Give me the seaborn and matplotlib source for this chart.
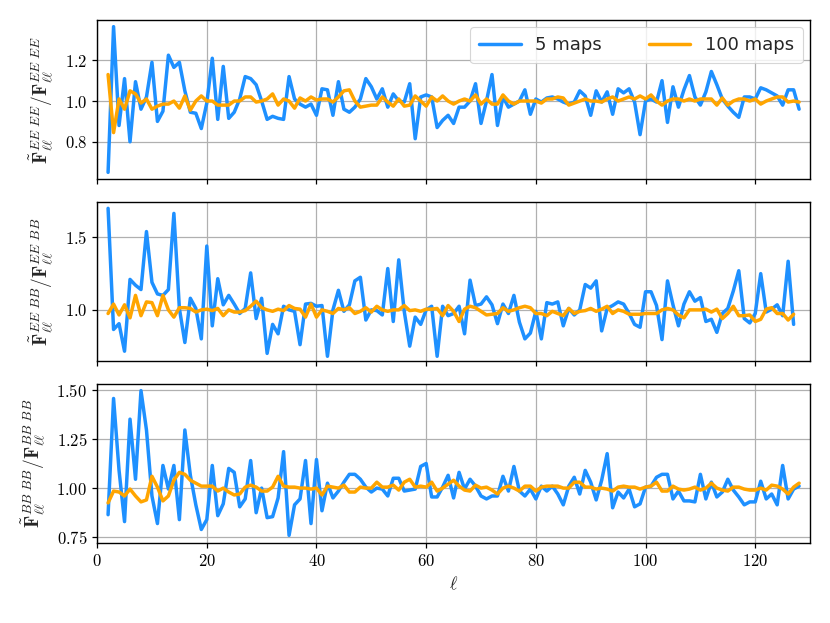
import numpy as np
import seaborn as sns
import matplotlib.pyplot as plt
import matplotlib.ticker as ticker

ell = np.arange(2, 129)

# EE x EE ratio
ee_5 = [0.65, 1.365, 0.88, 1.11, 0.80, 1.095, 0.96, 1.02, 1.19, 0.90,
        0.95, 1.225, 1.165, 1.19, 1.05, 0.945, 0.94, 0.865, 0.99, 1.21,
        0.91, 1.17, 0.915, 0.945, 1.01, 1.12, 1.11, 1.08, 1.0, 0.91,
        0.925, 0.915, 0.91, 1.12, 1.01, 0.985, 0.97, 0.985, 0.93, 1.06,
        1.055, 0.93, 1.095, 0.96, 0.945, 0.97, 1.01, 1.11, 1.07, 1.01,
        1.06, 0.97, 1.035, 1.0, 0.995, 1.085, 0.815, 1.02, 1.03, 1.02,
        0.87, 0.905, 0.93, 0.89, 0.97, 0.97, 1.0, 1.085, 0.89, 1.0,
        1.13, 0.88, 1.02, 0.97, 0.985, 1.0, 1.055, 0.935, 1.01, 0.995,
        1.015, 1.02, 1.01, 0.995, 0.985, 0.995, 1.05, 1.025, 0.93, 1.05,
        0.995, 1.045, 0.935, 1.06, 1.04, 1.06, 0.995, 0.835, 1.0, 1.01,
        0.995, 1.10, 0.895, 1.07, 0.97, 1.055, 1.125, 1.02, 0.98, 1.045,
        1.145, 1.08, 1.01, 0.975, 0.945, 0.92, 1.02, 1.02, 1.01, 1.065,
        1.055, 1.04, 1.025, 0.98, 1.055, 1.055, 0.96]
ee_100 = [1.13, 0.845, 1.01, 0.96, 1.05, 1.035, 0.99, 1.01, 0.96, 0.975,
          0.985, 0.985, 1.0, 0.965, 1.025, 0.955, 1.0, 1.025, 1.0, 1.0,
          0.98, 0.98, 0.98, 1.0, 1.0, 1.02, 1.02, 0.995, 1.0, 1.01,
          1.035, 0.98, 1.01, 1.0, 0.965, 1.015, 1.0, 1.02, 1.005, 1.01,
          1.01, 0.995, 1.02, 1.05, 1.055, 1.0, 0.97, 0.975, 0.98, 0.98,
          1.02, 0.995, 0.975, 1.01, 0.975, 0.98, 1.025, 1.0, 0.975, 1.02,
          1.0, 1.025, 1.0, 0.985, 1.0, 1.01, 1.0, 1.03, 0.985, 1.01,
          0.985, 0.985, 1.03, 1.0, 0.985, 1.0, 1.0, 1.0, 1.0, 0.99,
          1.01, 1.01, 1.02, 1.015, 0.98, 0.99, 1.0, 1.01, 1.0, 1.0,
          0.995, 1.01, 1.02, 1.0, 1.01, 1.02, 1.01, 1.025, 1.01, 1.03,
          1.0, 0.98, 1.0, 1.01, 1.01, 1.0, 1.01, 1.0, 1.01, 1.01,
          1.01, 0.98, 1.015, 0.98, 1.0, 1.01, 1.01, 1.0, 1.01, 0.985,
          1.0, 1.01, 1.02, 1.02, 0.995, 1.0, 0.995]

# EE x BB ratio (ends at ell = 127)
eb_5 = [1.70, 0.865, 0.905, 0.715, 1.21, 1.17, 1.14, 1.54, 1.19, 1.11,
        1.10, 1.14, 1.665, 1.01, 0.775, 1.08, 1.01, 0.80, 1.44, 0.89,
        1.215, 1.035, 1.10, 1.04, 0.975, 1.01, 1.255, 0.94, 1.08, 0.70,
        0.90, 0.835, 1.025, 1.0, 0.99, 0.76, 1.04, 1.045, 1.025, 1.03,
        0.68, 1.0, 1.135, 0.99, 1.035, 1.20, 1.225, 0.93, 1.0, 0.995,
        0.965, 1.285, 0.92, 1.345, 0.99, 0.75, 0.95, 0.90, 1.0, 1.025,
        0.68, 1.025, 0.96, 0.975, 1.025, 0.835, 1.205, 1.03, 1.04, 1.09,
        1.035, 0.905, 1.04, 0.975, 1.10, 0.915, 0.80, 0.84, 0.99, 0.80,
        1.05, 1.04, 1.055, 0.89, 1.01, 0.965, 1.0, 1.175, 1.15, 1.20,
        0.855, 1.01, 1.03, 1.055, 1.04, 0.975, 0.90, 0.88, 1.125, 1.125,
        1.03, 0.795, 1.20, 1.035, 0.89, 1.04, 1.125, 1.06, 1.085, 0.92,
        0.935, 0.845, 0.975, 1.01, 1.13, 1.27, 0.94, 0.91, 0.975, 1.25,
        0.985, 1.005, 1.035, 0.96, 1.335, 0.90]
eb_100 = [0.975, 1.04, 0.965, 1.035, 0.945, 1.10, 0.96, 1.055, 1.05, 0.96,
          1.10, 1.0, 0.95, 1.015, 1.015, 1.01, 0.985, 1.0, 1.005, 0.995,
          1.01, 0.96, 1.0, 0.985, 0.985, 0.995, 1.025, 1.06, 1.015, 1.0,
          0.99, 1.005, 0.995, 1.03, 1.01, 1.005, 0.95, 1.04, 0.95, 1.0,
          0.99, 0.975, 1.01, 1.0, 1.015, 0.975, 0.99, 1.015, 0.985, 1.025,
          1.0, 0.99, 1.0, 1.0, 1.03, 0.995, 1.0, 0.99, 1.005, 1.005,
          1.01, 0.96, 1.03, 0.99, 0.92, 1.005, 1.025, 1.015, 0.99, 0.965,
          0.97, 0.975, 1.015, 0.99, 1.0, 1.015, 1.025, 1.015, 0.975, 0.975,
          0.96, 0.99, 0.975, 0.96, 1.01, 0.975, 0.99, 0.995, 1.01, 0.99,
          1.005, 1.025, 0.975, 1.0, 0.99, 0.97, 0.97, 0.97, 0.975, 0.975,
          0.975, 1.0, 1.01, 1.0, 0.965, 0.945, 1.0, 1.0, 1.0, 1.005,
          0.985, 1.005, 0.94, 0.975, 1.025, 0.96, 0.96, 0.965, 0.92, 0.935,
          1.005, 1.015, 0.975, 0.975, 0.93, 0.97]

# BB x BB ratio
bb_5 = [0.865, 1.455, 1.09, 0.83, 1.35, 1.045, 1.495, 1.295, 0.96, 0.82,
        1.115, 0.995, 1.115, 0.84, 1.295, 1.065, 0.915, 0.79, 0.84, 1.115,
        0.86, 0.92, 1.10, 1.08, 0.905, 0.945, 1.14, 0.875, 1.0, 0.85,
        0.855, 0.95, 1.185, 0.76, 0.915, 0.945, 1.14, 0.82, 1.145, 0.885,
        1.025, 0.95, 0.985, 1.03, 1.07, 1.07, 1.045, 1.005, 0.98, 1.0,
        0.995, 0.96, 1.05, 1.05, 0.985, 0.99, 0.995, 1.11, 1.125, 0.955,
        0.955, 1.005, 1.065, 0.95, 1.08, 0.995, 1.045, 1.01, 0.96, 0.945,
        0.96, 0.96, 1.06, 0.985, 1.11, 0.985, 0.96, 0.995, 0.945, 1.01,
        0.985, 1.01, 0.97, 0.915, 1.01, 1.055, 0.97, 1.09, 1.03, 0.94,
        1.04, 1.175, 0.90, 0.98, 0.95, 0.995, 0.905, 0.92, 1.005, 1.01,
        1.055, 1.07, 1.07, 0.945, 0.985, 0.935, 0.935, 0.93, 1.07, 0.945,
        1.03, 0.955, 0.98, 1.045, 0.99, 0.955, 0.915, 0.93, 0.93, 1.035,
        0.945, 0.97, 0.915, 1.115, 0.945, 0.995, 1.01]
bb_100 = [0.925, 0.985, 0.98, 0.96, 0.995, 0.96, 0.93, 0.94, 1.06, 1.005,
          0.935, 0.96, 1.04, 1.08, 1.07, 1.04, 1.025, 1.01, 1.01, 1.01,
          0.985, 1.0, 0.98, 0.965, 0.97, 1.005, 1.015, 1.005, 0.985, 0.985,
          1.005, 1.06, 1.01, 1.005, 1.005, 1.0, 1.0, 0.995, 1.0, 0.965,
          1.01, 1.005, 1.0, 1.015, 0.98, 0.98, 1.005, 1.0, 1.0, 1.03,
          1.005, 1.005, 1.015, 0.99, 1.03, 1.045, 1.005, 1.01, 1.005, 1.03,
          0.985, 1.0, 1.02, 1.04, 1.01, 0.99, 0.985, 1.015, 1.0, 1.005,
          0.99, 0.97, 1.0, 1.01, 1.0, 0.985, 1.01, 1.01, 0.985, 1.005,
          1.01, 1.01, 1.01, 1.0, 1.0, 1.03, 1.03, 1.005, 1.005, 0.995,
          1.0, 0.995, 0.985, 1.005, 1.01, 1.005, 1.005, 0.995, 1.005, 1.01,
          1.03, 0.985, 0.985, 1.01, 0.995, 0.99, 0.995, 1.005, 0.99, 1.0,
          1.025, 1.0, 0.99, 0.985, 1.005, 1.005, 0.995, 0.99, 0.99, 1.0,
          0.99, 1.015, 1.01, 0.995, 0.97, 1.005, 1.025]

panels = [(ee_5, ee_100, r'$\tilde{\mathbf{F}}^{EE\ EE}_{\ell\ell}/\mathbf{F}^{EE\ EE}_{\ell\ell}$', 0.2, (0.615, 1.398)),
          (eb_5, eb_100, r'$\tilde{\mathbf{F}}^{EE\ BB}_{\ell\ell}/\mathbf{F}^{EE\ BB}_{\ell\ell}$', 0.5, (0.645, 1.745)),
          (bb_5, bb_100, r'$\tilde{\mathbf{F}}^{BB\ BB}_{\ell\ell}/\mathbf{F}^{BB\ BB}_{\ell\ell}$', 0.25, (0.72, 1.53))]

sns.set_theme(context="paper", style="ticks")
plt.rcParams['font.family'] = 'serif'
plt.rcParams['font.serif'] = ['cmr10']
plt.rcParams['mathtext.fontset'] = 'cm'
plt.rcParams['axes.formatter.use_mathtext'] = True
plt.rcParams['axes.edgecolor'] = 'black'
plt.rcParams['axes.linewidth'] = 1.0
plt.rcParams['xtick.color'] = 'black'
plt.rcParams['ytick.color'] = 'black'

fig, axs = plt.subplots(3, sharex=True, figsize=(8.3, 6.23), dpi=100)
fig.subplots_adjust(left=0.117, right=0.976, top=0.968, bottom=0.128, hspace=0.14)

for j, (v5, v100, lab, step, lims) in enumerate(panels):
    ax = axs[j]
    sns.lineplot(x=ell[:len(v5)], y=v5, ax=ax, color='dodgerblue', lw=2.5,
                 label='5 maps', legend=(j == 0))
    sns.lineplot(x=ell[:len(v100)], y=v100, ax=ax, color='orange', lw=2.5,
                 label='100 maps', legend=(j == 0))
    ax.grid(True, color='#b0b0b0', lw=0.9)
    ax.set_axisbelow(True)
    ax.yaxis.set_major_locator(ticker.MultipleLocator(step))
    ax.set_ylim(*lims)
    ax.set_ylabel(lab, fontsize=14, labelpad=6)
    ax.tick_params(labelsize=12, width=0.9, length=3.5)
    for s in ax.spines.values():
        s.set_visible(True)

axs[0].legend(loc='upper right', ncol=2, prop={'family': 'DejaVu Sans', 'size': 13},
              framealpha=0.8, edgecolor='#cccccc', handlelength=2.3, borderaxespad=0.4,
              columnspacing=2.6, borderpad=0.5)
axs[2].set_xlim(0, 130)
axs[2].xaxis.set_major_locator(ticker.MultipleLocator(20))
axs[2].set_xlabel(r'$\ell$', fontsize=13)

plt.savefig('out.png', dpi=100)
